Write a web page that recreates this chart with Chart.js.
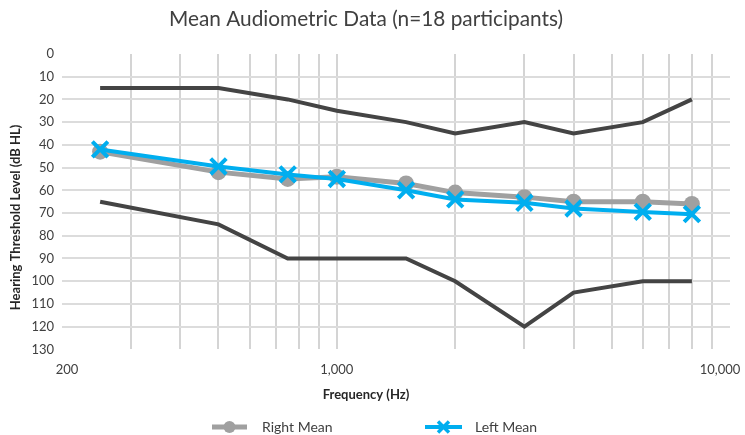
<!DOCTYPE html>
<html>
<head>
<meta charset="utf-8">
<script src="https://cdn.jsdelivr.net/npm/chart.js@4.4.1/dist/chart.umd.min.js"></script>
<style>
  html, body { margin: 0; padding: 0; background: #fff; }
  #wrap { width: 745px; height: 435px; }
</style>
</head>
<body>
<div id="wrap"><canvas id="chart"></canvas></div>
<script>
// test frequencies (Hz)
const frequencies = [250, 500, 750, 1000, 1500, 2000, 3000, 4000, 6000, 8000];
// thresholds in dB HL
const rightMean = [43, 52, 55, 54, 57, 61, 63, 65, 65, 66];
const leftMean = [42, 49.5, 53, 55, 60, 64, 65.5, 68, 69.5, 70.5];
const bestThreshold = [15, 15, 20, 25, 30, 35, 30, 35, 30, 20];
const worstThreshold = [65, 75, 90, 90, 90, 100, 120, 105, 100, 100];

// axis ticks
const freqGrid = [200, 300, 400, 500, 600, 700, 800, 900, 1000, 2000, 3000, 4000, 5000, 6000, 7000, 8000, 9000, 10000];
const freqLabels = { 200: '200', 1000: '1,000', 10000: '10,000' };

const GRAY = '#a0a0a0';
const BLUE = '#00aeef';
const DARK = '#444444';

const toPoints = (ys) => frequencies.map((f, i) => ({ x: f, y: ys[i] }));

Chart.defaults.font.family = 'Lato, "Open Sans", sans-serif';
Chart.defaults.color = '#404040';

// legend drawn as line + marker like the original
const meanLegend = {
  id: 'meanLegend',
  afterDraw(chart) {
    const ctx = chart.ctx;
    const y = 427;
    const items = [
      { ds: chart.data.datasets[0], x0: 212, x1: 247, tx: 262 },
      { ds: chart.data.datasets[1], x0: 425, x1: 462, tx: 475 }
    ];
    ctx.save();
    items.forEach(({ ds, x0, x1, tx }) => {
      const cx = (x0 + x1) / 2;
      ctx.strokeStyle = ds.borderColor;
      ctx.lineWidth = ds.borderWidth;
      ctx.beginPath();
      ctx.moveTo(x0, y);
      ctx.lineTo(x1, y);
      ctx.stroke();
      if (ds.pointStyle === 'circle') {
        ctx.fillStyle = ds.borderColor;
        ctx.beginPath();
        ctx.arc(cx, y, 6, 0, Math.PI * 2);
        ctx.fill();
      } else {
        const a = 5.5;
        ctx.lineWidth = 3.5;
        ctx.beginPath();
        ctx.moveTo(cx - a, y - a); ctx.lineTo(cx + a, y + a);
        ctx.moveTo(cx + a, y - a); ctx.lineTo(cx - a, y + a);
        ctx.stroke();
      }
      ctx.fillStyle = '#404040';
      ctx.font = '14px Lato, "Open Sans", sans-serif';
      ctx.textAlign = 'left';
      ctx.textBaseline = 'middle';
      ctx.fillText(ds.label, tx, y);
    });
    ctx.restore();
  }
};

new Chart(document.getElementById('chart'), {
  type: 'line',
  data: {
    datasets: [
      {
        label: 'Right Mean',
        data: toPoints(rightMean),
        borderColor: GRAY,
        backgroundColor: GRAY,
        borderWidth: 5,
        pointStyle: 'circle',
        pointRadius: 8,
        pointBorderWidth: 0,
        order: 1
      },
      {
        label: 'Left Mean',
        data: toPoints(leftMean),
        borderColor: BLUE,
        backgroundColor: BLUE,
        borderWidth: 4,
        pointStyle: 'crossRot',
        pointRadius: 11,
        pointBorderWidth: 4,
        order: 0
      },
      {
        label: 'Best',
        data: toPoints(bestThreshold),
        borderColor: DARK,
        borderWidth: 4,
        pointRadius: 0,
        order: 2
      },
      {
        label: 'Worst',
        data: toPoints(worstThreshold),
        borderColor: DARK,
        borderWidth: 4,
        pointRadius: 0,
        order: 2
      }
    ]
  },
  options: {
    responsive: true,
    maintainAspectRatio: false,
    animation: false,
    layout: { padding: { left: 0, right: 13, top: 0, bottom: 28 } },
    plugins: {
      legend: { display: false },
      tooltip: { enabled: false },
      title: {
        display: true,
        text: 'Mean Audiometric Data (n=18 participants)',
        color: '#404040',
        font: { size: 20.8, weight: 'normal' },
        padding: { top: 7, bottom: 22 }
      }
    },
    scales: {
      x: {
        type: 'logarithmic',
        min: 200,
        max: 10000,
        afterBuildTicks: (scale) => {
          scale.ticks = freqGrid.map(v => ({ value: v }));
        },
        // let the end labels hang into the margin instead of shrinking the plot
        afterFit: (scale) => {
          scale.paddingLeft = 0;
          scale.paddingRight = 0;
        },
        ticks: {
          autoSkip: false,
          maxRotation: 0,
          padding: 13,
          color: '#404040',
          font: { size: 13 },
          callback: (v) => {
            const s = freqLabels[v] || '';
            if (v === 200) return '   ' + s;
            if (v === 10000) return s + '      ';
            return s;
          }
        },
        grid: {
          drawTicks: false,
          lineWidth: 2,
          color: (c) => (c.tick && (c.tick.value === 200 || c.tick.value === 10000)) ? 'rgba(0,0,0,0)' : '#d4d4d4'
        },
        border: { display: false },
        title: {
          display: true,
          text: 'Frequency (Hz)' + ' '.repeat(19),
          color: '#262626',
          font: { size: 13, weight: 'bold' },
          padding: { top: -3.6, bottom: 4 }
        }
      },
      y: {
        type: 'linear',
        reverse: true,
        min: 0,
        max: 130,
        ticks: {
          stepSize: 10,
          padding: 8,
          color: '#404040',
          font: { size: 13 }
        },
        grid: {
          drawTicks: false,
          lineWidth: 2,
          color: (c) => (c.tick && (c.tick.value === 0 || c.tick.value === 130)) ? 'rgba(0,0,0,0)' : '#dcdcdc'
        },
        border: { display: false },
        title: {
          display: true,
          text: 'Hearing Threshold Level (dB HL)' + ' '.repeat(10),
          color: '#262626',
          font: { size: 13, weight: 'bold' },
          padding: { top: 7.7, bottom: 0.1 }
        }
      }
    }
  },
  plugins: [meanLegend]
});
</script>
</body>
</html>
